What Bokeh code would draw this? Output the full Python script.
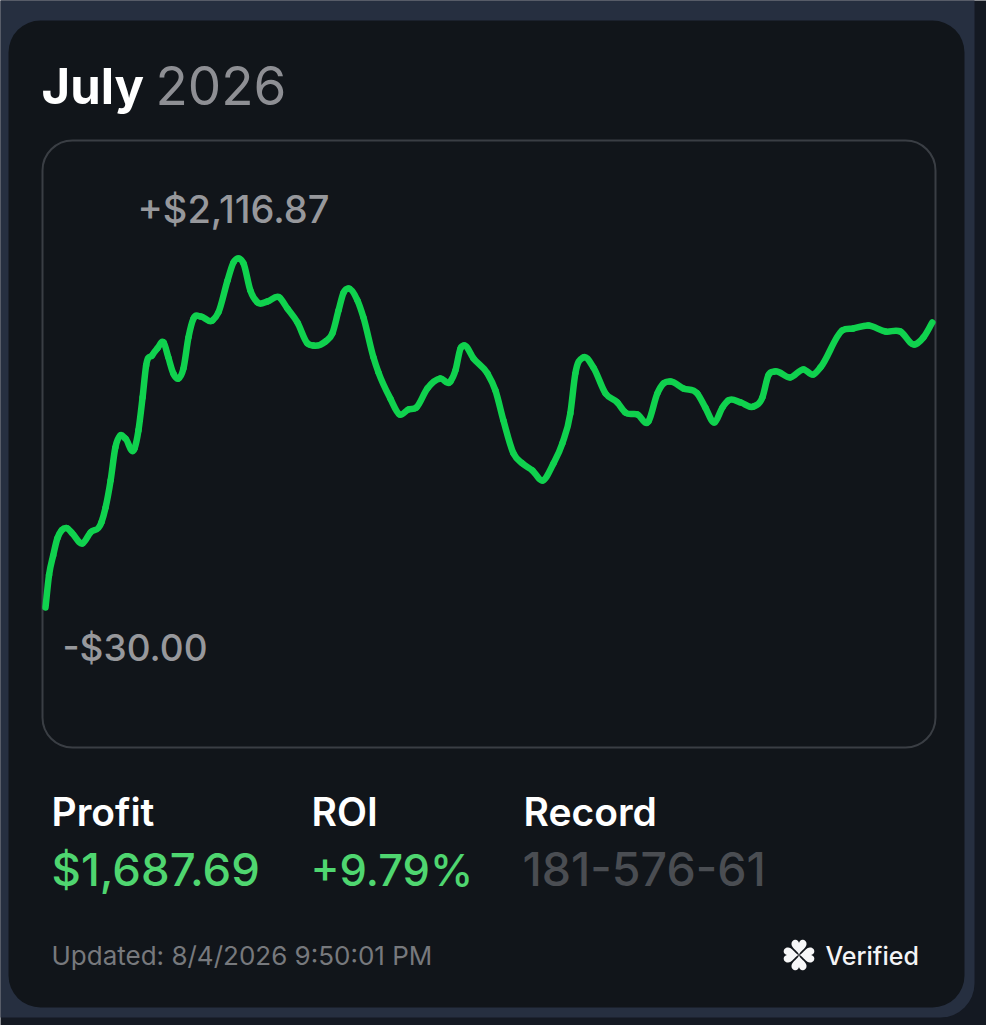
import numpy as np
from bokeh.plotting import figure
from bokeh.models import Range1d, Label, BoxAnnotation
from bokeh.embed import file_html
from bokeh.resources import INLINE

W, H = 986, 1025

days = [1.00,1.12,1.26,1.40,1.55,1.72,1.91,2.25,2.52,2.89,3.03,3.20,3.36,3.53,3.70,4.01,4.14,4.28,4.40,4.60,4.78,4.99,
        5.15,5.32,5.49,5.66,5.83,6.00,6.24,6.64,6.84,7.15,7.35,7.52,7.69,7.92,8.16,8.50,8.90,9.17,9.51,9.85,10.05,10.46,
        10.69,10.90,11.07,11.24,11.54,11.74,12.08,12.25,12.65,12.96,13.26,13.53,13.90,14.34,14.68,14.85,15.02,15.15,
        15.46,15.93,16.20,16.47,16.81,17.11,17.45,17.79,18.16,18.46,18.73,18.90,19.17,19.51,19.92,20.32,20.59,21.00,
        21.37,21.67,21.88,22.11,22.55,23.02,23.29,23.60,23.87,24.07,24.48,24.92,25.22,25.42,25.63,26.17,26.61,26.94,
        27.18,27.92,28.29,28.80,29.38,29.88,30.35,30.66,30.96]
profit = [-30,170,290,395,445,458,425,364,431,493,585,751,954,1028,1009,948,1059,1262,1458,1520,1563,1600,
          1508,1409,1378,1440,1631,1747,1760,1735,1784,1981,2092,2116.87,2086,1920,1846,1852,1877,1809,1723,1594,1581,1606,
          1655,1797,1907,1932,1858,1754,1508,1415,1255,1157,1188,1200,1317,1378,1360,1428,1563,1581,
          1501,1409,1305,1120,917,856,813,751,856,979,1163,1409,1508,1446,1286,1231,1169,1157,
          1114,1286,1348,1360,1317,1286,1200,1108,1200,1243,1231,1206,1262,1397,1421,1385,1434,1403,
          1446,1674,1686,1704,1667,1667,1587,1631,1723]

title_month = "July"
title_year = "2026"
max_label = "+$2,116.87"
min_label = "-$30.00"
stat_names = ["Profit", "ROI", "Record"]
stat_values = ["$1,687.69", "+9.79%", "181-576-61"]
updated = "Updated: 8/4/2026 9:50:01 PM"
verified = "Verified"

X0, X1 = -0.52, 32.79
Y0, Y1 = -2601.0, 3703.0

p = figure(width=W, height=H, x_range=Range1d(X0, X1), y_range=Range1d(Y0, Y1),
           toolbar_location=None, output_backend="svg", min_border=0,
           background_fill_color="#141922", border_fill_color="#141922",
           outline_line_color=None,
           styles={"position": "absolute", "left": "0px", "top": "0px"})
p.axis.visible = False
p.grid.visible = False


def box(l, t, r, b, fill, radius, line=None, lw=0):
    p.add_layout(BoxAnnotation(left=l, right=r, top=H - t, bottom=H - b,
                               left_units="screen", right_units="screen",
                               top_units="screen", bottom_units="screen",
                               fill_color=fill, fill_alpha=1, line_color=line, line_alpha=1,
                               line_width=lw, border_radius=radius, level="underlay",
                               editable=False))


box(-60, -60, 974, 1017, "#262f40", 34)
box(8, 20, 964, 1007, "#11151a", 32)
box(42, 140, 935, 747, "#11151a", 30, "#3a3e44", 2)


def label(x, base, text, size, color, font="Inter", style="normal"):
    p.add_layout(Label(x=x, y=H - base + 0.36 * size, x_units="screen", y_units="screen", text=text,
                       text_font=font, text_font_size=f"{size}px", text_color=color,
                       text_font_style=style, text_baseline="alphabetic", text_align="left"))


label(41, 104, title_month, 49, "#ffffff", "Inter", "bold")
label(155, 104, title_year, 53, "#8e8f94")
label(137, 222, max_label, 38, "#97989c", "Inter Medium")
label(62, 660, min_label, 37, "#97989c", "Inter Medium")
for x, name in zip([51, 311, 523], stat_names):
    label(x, 825, name, 39, "#ffffff", "Inter SemiBold")
for x, val, col, size in zip([51, 310, 522], stat_values, ["#4fd670", "#4fd670", "#4a4d52"], [45.5, 43.5, 46.5]):
    label(x, 885, val, size, col, "Inter Medium")
label(51, 964, updated, 26, "#77797d")
label(825, 964, verified, 25, "#f4f4f5", "Inter Medium")

# clover mark, built from four hearts whose tips meet at its centre
t = np.linspace(0, 2 * np.pi, 60)
hx = 16 * np.sin(t) ** 3 * 0.47
hy = (13 * np.cos(t) - 5 * np.cos(2 * t) - 2 * np.cos(3 * t) - np.cos(4 * t) + 17) * 0.53
cx, cy = 798.5, 954.5
xs, ys = [], []
for a in (0, np.pi / 2, np.pi, 3 * np.pi / 2):
    rx = hx * np.cos(a) - hy * np.sin(a)
    ry = hx * np.sin(a) + hy * np.cos(a)
    xs.append(X0 + (cx + rx) / W * (X1 - X0))
    ys.append(Y1 - (cy - ry) / H * (Y1 - Y0))
p.patches(xs, ys, fill_color="#f7f7f8", line_color=None)

# the read values are joined by Bezier segments, so the curve runs through every one of them
d = np.array(days)
v = np.array(profit, dtype=float)
slope = np.gradient(v, d)
dx = np.diff(d)
p.bezier(x0=d[:-1], y0=v[:-1], x1=d[1:], y1=v[1:],
         cx0=d[:-1] + dx / 3, cy0=v[:-1] + slope[:-1] * dx / 3,
         cx1=d[1:] - dx / 3, cy1=v[1:] - slope[1:] * dx / 3,
         line_color="#10d24e", line_width=6.5, line_cap="round")

open("out.html", "w").write(file_html(p, INLINE))
